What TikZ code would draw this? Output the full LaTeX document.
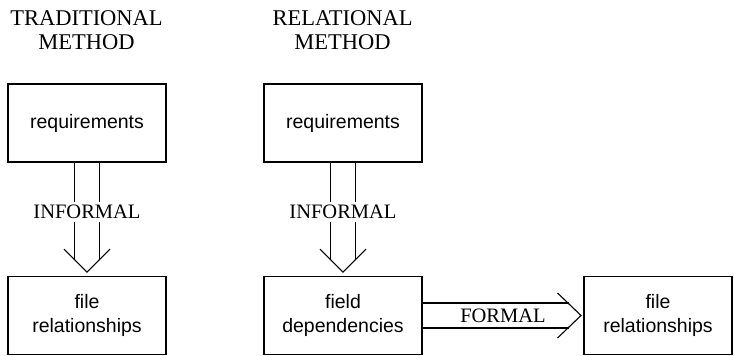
\documentclass[tikz,border=0pt]{standalone}
\usepackage{fontspec}
\setmainfont{Liberation Serif}
\setsansfont{Liberation Sans}
\usetikzlibrary{positioning}

\begin{document}
\begin{tikzpicture}[x=1pt, y=-1pt,
  box/.style = {draw=black, line width=1.6pt, minimum width=158.5pt, minimum height=78pt,
                align=center, font=\sffamily\fontsize{19.5}{24}\selectfont},
  title/.style = {align=center, font=\fontsize{22.5}{23.5}\selectfont},
  tag/.style = {inner sep=3pt, font=\fontsize{20.5}{22}\selectfont},
  twin/.style = {line width=1.6pt},
  chev/.style = {line width=1.1pt, line join=miter}]
\useasboundingbox (0,0) rectangle (734,356);
% headings
\node[title] (headA) at (86.5,30) {TRADITIONAL\\METHOD};
\node[title] (headB) at (342.5,30) {RELATIONAL\\METHOD};
% boxes
\node[box] (reqA) at (87,123) {requirements};
\node[box] (fileA) at (87,315.5) {file\\relationships};
\node[box] (reqB) at (343,123) {requirements};
\node[box] (fieldB) at (343,315.5) {field\\dependencies};
\node[box, minimum width=148.4pt] (fileB) at (658,315.5) {file\\relationships};
% labels
\node[tag] (infA) at (87,212) {INFORMAL};
\node[tag] (infB) at (343,212) {INFORMAL};
\node[tag] (frmB) at (503,316) {FORMAL};
% informal arrows
\foreach \top/\lbl/\bot in {reqA/infA/fileA, reqB/infB/fieldB} {
  \foreach \dx in {-12.5,12.5} {
    \draw[twin] ([xshift=\dx pt]\top.south) -- ([xshift=\dx pt]\top.south |- \lbl.north);
    \draw[twin] ([xshift=\dx pt]\top.south |- \lbl.south) -- ([xshift=\dx pt,yshift=16pt]\bot.north);
  }
  \draw[chev] ([xshift=-23pt,yshift=26.5pt]\bot.north) -- ([yshift=3.5pt]\bot.north)
    -- ([xshift=23pt,yshift=26.5pt]\bot.north);
}
% formal arrow
\foreach \dy in {-12.5,12.5} {
  \draw[twin] ([yshift=\dy pt]fieldB.east) -- ([xshift=-14.5pt,yshift=\dy pt]fileB.west);
}
\draw[chev] ([xshift=-25.5pt,yshift=22.5pt]fileB.west) -- ([xshift=-2pt]fileB.west)
  -- ([xshift=-25.5pt,yshift=-22.5pt]fileB.west);
\end{tikzpicture}
\end{document}
